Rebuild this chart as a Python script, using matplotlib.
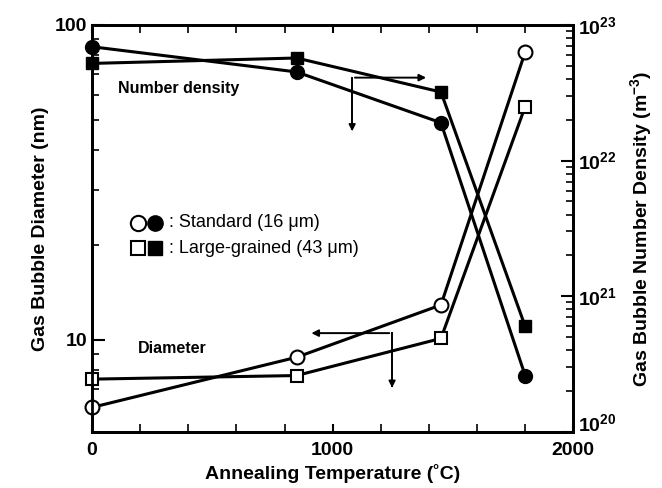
import numpy as np
import matplotlib
matplotlib.use("Agg")
import matplotlib.pyplot as plt
import matplotlib.transforms as mtransforms
from matplotlib.ticker import FixedLocator, NullFormatter, LogLocator

plt.rcParams["font.family"] = ["Liberation Sans", "DejaVu Sans"]
plt.rcParams["font.weight"] = "bold"
plt.rcParams["mathtext.default"] = "regular"

# annealing temperature (C)
temp = [0, 850, 1450, 1800]

# gas bubble diameter (nm), left axis
diam_standard = [6.1, 8.8, 12.9, 82]
diam_large = [7.5, 7.7, 10.1, 55]

# gas bubble number density (m^-3), right axis
dens_standard = [6.9e22, 4.5e22, 1.9e22, 2.6e20]
dens_large = [5.2e22, 5.7e22, 3.2e22, 6.0e20]

fig = plt.figure(figsize=(6.62, 4.88), dpi=100)
ax = fig.add_axes([0.139, 0.115, 0.727, 0.834])
ax2 = ax.twinx()

lw = 2.2
ms = 10
ax.plot(temp, diam_standard, "-o", color="black", lw=lw, ms=ms,
        mfc="white", mec="black", mew=1.5, clip_on=False, zorder=5)
ax.plot(temp, diam_large, "-s", color="black", lw=lw, ms=ms - 1,
        mfc="white", mec="black", mew=1.5, clip_on=False, zorder=5)
ax2.plot(temp, dens_standard, "-o", color="black", lw=lw, ms=ms,
         mfc="black", mec="black", clip_on=False, zorder=5)
ax2.plot(temp, dens_large, "-s", color="black", lw=lw, ms=ms - 1,
         mfc="black", mec="black", clip_on=False, zorder=5)

ax.set_xlim(0, 2000)
ax.set_yscale("log")
ax.set_ylim(5.1, 100)
ax2.set_yscale("log")
ax2.set_ylim(1e20, 1e23)

ax.xaxis.set_major_locator(FixedLocator([0, 1000, 2000]))
ax.xaxis.set_minor_locator(FixedLocator(np.arange(200, 2000, 200)))
ax.set_yticks([10, 100])
ax.set_yticklabels(["10", "100"])
ax.yaxis.set_minor_formatter(NullFormatter())
ax2.yaxis.set_major_locator(FixedLocator([1e20, 1e21, 1e22, 1e23]))
ax2.set_yticklabels(["10$^{20}$", "10$^{21}$", "10$^{22}$", "10$^{23}$"])
ax2.yaxis.set_minor_locator(LogLocator(base=10, subs=np.arange(2, 10)))
ax2.yaxis.set_minor_formatter(NullFormatter())

for a in (ax, ax2):
    a.tick_params(which="major", direction="in", length=9, width=1.5,
                  labelsize=14, top=True)
    a.tick_params(which="minor", direction="in", length=5, width=1.2, top=True)
    for s in a.spines.values():
        s.set_linewidth(2)
ax.tick_params(axis="x", which="minor", length=6, top=True)
ax.tick_params(axis="x", which="major", length=6, pad=7, top=True)

# lift the bottom right label so it clears the "2000" label
lift = mtransforms.ScaledTranslation(0, 7 / 72, fig.dpi_scale_trans)
lbl = ax2.get_yticklabels()[0]
lbl.set_transform(lbl.get_transform() + lift)

ax.set_xlabel("Annealing Temperature (˚C)", fontsize=14, fontweight="bold")
ax.set_ylabel("Gas Bubble Diameter (nm)", fontsize=14, fontweight="bold",
              labelpad=4)
ax2.set_ylabel("Gas Bubble Number Density (m$^{-3}$)", fontsize=14,
               fontweight="bold", labelpad=8)

# annotations
ax.text(110, 63, "Number density", fontsize=11.5, fontweight="bold",
        va="center")
ax.text(190, 9.4, "Diameter", fontsize=11.5, fontweight="bold", va="center")
ax.plot([1081, 1081], [68, 49], color="black", lw=1.4)
ax.annotate("", xy=(1081, 45), xytext=(1081, 50),
            arrowprops=dict(arrowstyle="-|>", color="black", lw=1.2))
ax.annotate("", xy=(1400, 68), xytext=(1081, 68),
            arrowprops=dict(arrowstyle="-|>", color="black", lw=1.4))
ax.plot([1247, 1247], [10.5, 7.2], color="black", lw=1.4)
ax.annotate("", xy=(1247, 6.9), xytext=(1247, 7.3),
            arrowprops=dict(arrowstyle="-|>", color="black", lw=1.2))
ax.annotate("", xy=(900, 10.5), xytext=(1247, 10.5),
            arrowprops=dict(arrowstyle="-|>", color="black", lw=1.4))

# legend-like key
ax.plot([190], [23.5], "o", ms=11, mfc="white", mec="black", mew=1.5)
ax.plot([260], [23.5], "o", ms=11, mfc="black", mec="black")
ax.plot([190], [19.5], "s", ms=10, mfc="white", mec="black", mew=1.5)
ax.plot([260], [19.5], "s", ms=10, mfc="black", mec="black")
ax.text(320, 23.5, ": Standard (16 μm)", fontsize=13, fontweight="normal",
        va="center")
ax.text(320, 19.5, ": Large-grained (43 μm)", fontsize=13,
        fontweight="normal", va="center")

fig.savefig("out.png", dpi=100)
